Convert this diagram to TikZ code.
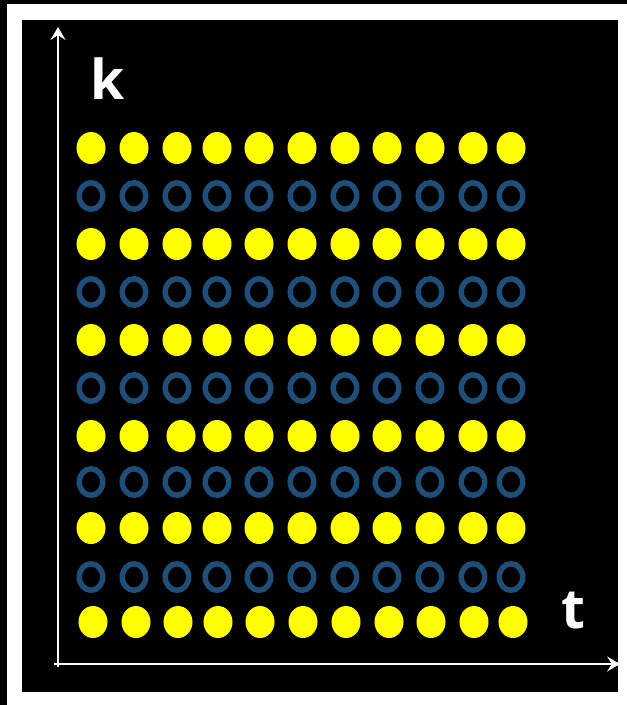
\documentclass[tikz,border=0pt]{standalone}
\usepackage{fontspec}
\setsansfont{Open Sans}
\usetikzlibrary{shapes.geometric,arrows.meta}
\definecolor{ringblue}{RGB}{31,78,121}
\definecolor{dotyellow}{RGB}{255,255,0}
\tikzset{
  ydot/.style={ellipse,fill=dotyellow,draw=none,inner sep=0pt,minimum width=29pt,minimum height=32pt},
  bring/.style={ellipse,draw=ringblue,line width=5.5pt,inner sep=0pt,minimum width=23.5pt,minimum height=26.5pt},
  axis/.style={draw=white,line width=2pt,-{Stealth[length=13pt,width=15pt,inset=5pt]}},
  axlabel/.style={text=white,font=\sffamily\bfseries\fontsize{55}{60}\selectfont,inner sep=0pt}
}
\begin{document}
\begin{tikzpicture}[x=1pt,y=-1pt]
\useasboundingbox (0,0) rectangle (627,705);
% outer frame
\fill[white] (0,0) rectangle (627,705);
\fill[black] (0,0) rectangle (627,4);
\fill[black] (0,0) rectangle (7,705);
\fill[black] (22,20) rectangle (618,692);
% dots
\foreach \yy [count=\r] in {148,244,340,436,528} {
  \foreach \xx [count=\c] in {91,134,177,217,259,302,345,387,430,473,511} {
    \ifnum\r=4 \ifnum\c=3 \def\xx{181}\fi\fi
    \node[ydot] (y\r-\c) at (\xx,\yy) {};
  }
}
\foreach \xx [count=\c] in {93,136,178,218,260,303,346,389,431,474,513} {
  \node[ydot] (y6-\c) at (\xx,622) {};
}
\foreach \yy [count=\r] in {196,292,388,482,577} {
  \foreach \xx [count=\c] in {91,134,177,217,259,302,345,387,430,473,511} {
    \node[bring] (b\r-\c) at (\xx,\yy) {};
  }
}
% axes
\coordinate (ktip) at (58,27);
\coordinate (ttip) at (620,664);
\coordinate (vstart) at (58,667);
\coordinate (hstart) at (54,664);
\draw[axis] (vstart) -- (ktip);
\draw[axis] (hstart) -- (ttip);
\node[axlabel] (klab) at (108,79) {k};
\node[axlabel] (tlab) at (573,611) {t};
\end{tikzpicture}
\end{document}
